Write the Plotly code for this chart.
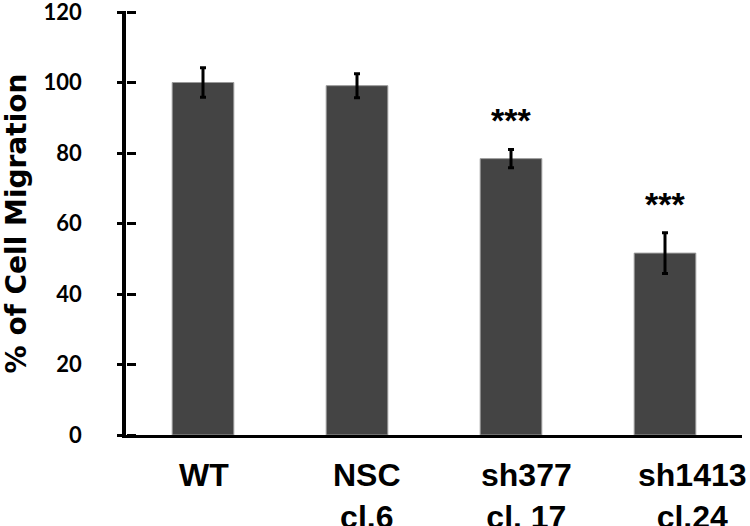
import plotly.graph_objects as go

# ---- data ----
categories = ["WT", "NSC cl.6", "sh377 cl. 17", "sh1413 cl.24"]
tick_labels = ["WT", "NSC<br>cl.6", "sh377<br>cl. 17", "sh1413<br>cl.24"]
migration = [100.0, 99.1, 78.4, 51.6]
errors = [4.2, 3.4, 2.6, 5.8]
significance = ["", "", "***", "***"]
y_ticks = [0, 20, 40, 60, 80, 100, 120]

# ---- styling ----
bar_color = "#444444"
label_font = dict(family="Liberation Sans, Arial, sans-serif", size=32, color="black", weight=700)
tick_font = dict(family="Lato, sans-serif", size=22, color="black", weight=700)
title_font = dict(family="DejaVu Sans, sans-serif", size=28, color="black", weight=700)
label_xshift = [1, 10, 15, 27]

fig = go.Figure()
fig.add_trace(go.Bar(
    x=categories, y=migration,
    marker=dict(color=bar_color, line=dict(color="#9a9a9a", width=1)),
    error_y=dict(type="data", array=errors, visible=True, color="black", thickness=3, width=3),
    width=0.4,
    showlegend=False, hoverinfo="skip",
))
# invisible helper traces so the extra tick axes are drawn
for ax in ["y2", "y3"]:
    fig.add_trace(go.Scatter(
        x=categories, y=migration, yaxis=ax, mode="markers",
        marker=dict(opacity=0), showlegend=False, hoverinfo="skip",
    ))

annotations = []
for cat, lab, dx in zip(categories, tick_labels, label_xshift):
    annotations.append(dict(
        x=cat, xref="x", y=0, yref="paper", yanchor="top", xanchor="center",
        text=lab, showarrow=False, font=label_font, xshift=dx, yshift=-20,
        align="center",
    ))
for cat, v, e, s in zip(categories, migration, errors, significance):
    if s:
        annotations.append(dict(
            x=cat, xref="x", y=v + e, yref="y", yanchor="bottom", xanchor="center",
            text=s, showarrow=False, font=dict(family="Liberation Sans, Arial, sans-serif",
                                               size=34, color="black", weight=700),
            yshift=8,
        ))

common_tick = dict(range=[0, 120], tickvals=y_ticks, showgrid=False, zeroline=False,
                   automargin=False, fixedrange=True)

fig.update_layout(
    template="none",
    width=750, height=526,
    margin=dict(l=126, r=8, t=12, b=91, pad=0),
    paper_bgcolor="white", plot_bgcolor="white",
    xaxis=dict(
        range=[-0.5, 3.5], showline=True, linecolor="black", linewidth=3,
        ticks="", showticklabels=False, showgrid=False, zeroline=False,
        fixedrange=True, automargin=False,
    ),
    yaxis=dict(
        **common_tick,
        showline=True, linecolor="black", linewidth=3.5,
        ticks="outside", ticklen=36, tickwidth=3, tickcolor="rgba(0,0,0,0)",
        tickfont=tick_font, ticklabeloverflow="allow",
        title=dict(text="% of Cell Migration", font=title_font, standoff=28),
    ),
    yaxis2=dict(
        **common_tick, overlaying="y", side="left", anchor="free", position=0,
        ticks="outside", ticklen=9, tickwidth=3, tickcolor="black",
        showticklabels=False, showline=False,
    ),
    yaxis3=dict(
        **common_tick, overlaying="y", side="right", anchor="free", position=0,
        ticks="outside", ticklen=9, tickwidth=3, tickcolor="black",
        showticklabels=False, showline=False,
    ),
    annotations=annotations,
    bargap=0.6,
)

fig.write_html("out.html", config={"displayModeBar": False},
               post_script="document.body.style.margin='0';")
